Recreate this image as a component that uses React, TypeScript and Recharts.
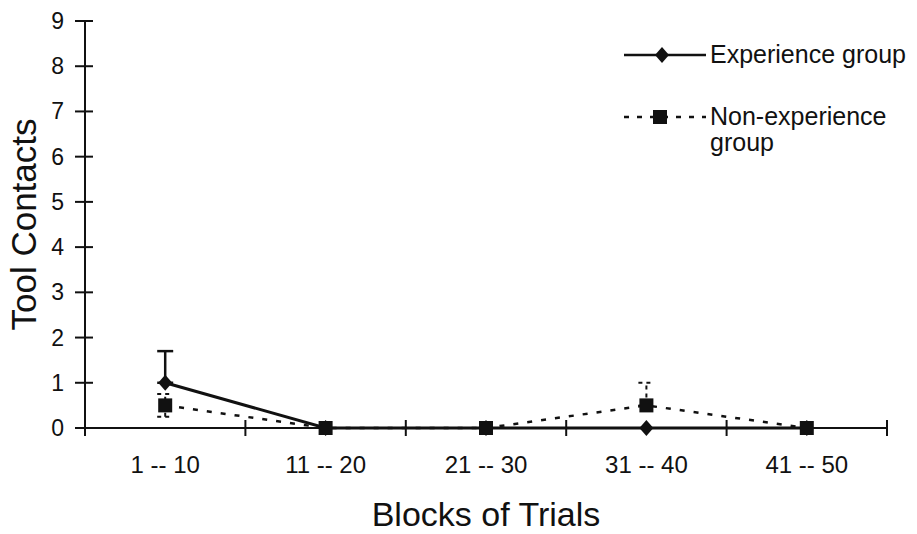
import React from 'react';
import { LineChart, Line, XAxis, YAxis, ErrorBar, Legend } from 'recharts';

const blocks = ['1 -- 10', '11 -- 20', '21 -- 30', '31 -- 40', '41 -- 50'];
const experience = [1, 0, 0, 0, 0];
const experienceErr = [[0, 0.7], null, null, null, null];
const nonExperience = [0.5, 0, 0, 0.5, 0];
const nonExperienceErr = [[0.25, 0.25], null, null, [0, 0.5], null];
const yTicks = [0, 1, 2, 3, 4, 5, 6, 7, 8, 9];
const xTicks = [0, 0.5, 1, 1.5, 2, 2.5, 3, 3.5, 4, 4.5, 5];

const data = blocks.map((block, i) => ({
  pos: i + 0.5,
  block,
  exp: experience[i],
  expErr: experienceErr[i],
  non: nonExperience[i],
  nonErr: nonExperienceErr[i],
}));

const FONT = '"Liberation Sans", Arial, sans-serif';
const INK = '#111';

const Diamond = ({ cx, cy }: any) => (
  <polygon points={`${cx},${cy - 8} ${cx + 7},${cy} ${cx},${cy + 8} ${cx - 7},${cy}`} fill={INK} />
);

const Square = ({ cx, cy }: any) => <rect x={cx - 7} y={cy - 7} width={14} height={14} fill={INK} />;

const XTick = ({ x, y, payload }: any) => {
  const v = payload.value;
  if (Number.isInteger(v)) {
    return <line x1={x} x2={x} y1={y - 8} y2={y + 8} stroke={INK} strokeWidth={2} />;
  }
  return (
    <text x={x} y={y + 45} textAnchor="middle" fontSize={24} fontFamily={FONT} fill={INK}>
      {blocks[Math.floor(v)]}
    </text>
  );
};

const YTick = ({ x, y, payload }: any) => (
  <g>
    <line x1={x - 10} x2={x + 8} y1={y} y2={y} stroke={INK} strokeWidth={2} />
    <text x={x - 21} y={y + 8} textAnchor="end" fontSize={23} fontFamily={FONT} fill={INK}>
      {payload.value}
    </text>
  </g>
);

const LegendBox = () => (
  <svg width={297} height={140} style={{ display: 'block' }}>
    <line x1={4} x2={86} y1={25} y2={25} stroke={INK} strokeWidth={2.5} />
    <Diamond cx={42} cy={25} />
    <text x={90} y={33} fontSize={25} fontFamily={FONT} fill={INK}>Experience group</text>
    <line x1={4} x2={86} y1={87} y2={87} stroke={INK} strokeWidth={2.5} strokeDasharray="5 8" />
    <Square cx={40} cy={87} />
    <text x={90} y={95} fontSize={25} fontFamily={FONT} fill={INK}>Non-experience</text>
    <text x={90} y={121} fontSize={25} fontFamily={FONT} fill={INK}>group</text>
  </svg>
);

export default function App() {
  return (
    <div style={{ position: 'absolute', left: 0, top: 0, background: '#fff' }}>
      <LineChart width={917} height={534} data={data} margin={{ top: 21, right: 30, bottom: 0, left: 0 }}>
        <XAxis
          dataKey="pos"
          type="number"
          domain={[0, 5]}
          ticks={xTicks}
          interval={0}
          tick={<XTick />}
          tickSize={0}
          tickMargin={0}
          tickLine={false}
          axisLine={{ stroke: INK, strokeWidth: 2 }}
          height={106}
          label={{
            value: 'Blocks of Trials',
            position: 'insideBottom',
            offset: 8,
            fontSize: 34,
            fontFamily: FONT,
            fill: INK,
          }}
        />
        <YAxis
          type="number"
          domain={[0, 9]}
          ticks={yTicks}
          interval={0}
          tick={<YTick />}
          tickSize={0}
          tickMargin={0}
          tickLine={false}
          axisLine={{ stroke: INK, strokeWidth: 2 }}
          width={85}
          label={{
            value: 'Tool Contacts',
            angle: -90,
            position: 'insideLeft',
            offset: 24,
            fontSize: 35,
            fontFamily: FONT,
            fill: INK,
            style: { textAnchor: 'middle' },
          }}
        />
        <Legend
          layout="vertical"
          align="center"
          verticalAlign="middle"
          content={<LegendBox />}
          wrapperStyle={{ left: 620, top: 30, width: 297 }}
        />
        <Line
          dataKey="non"
          name="Non-experience group"
          stroke={INK}
          strokeWidth={2.5}
          strokeDasharray="5 9"
          dot={<Square />}
          activeDot={false}
          isAnimationActive={false}
        >
          <ErrorBar dataKey="nonErr" direction="y" width={8} stroke={INK} strokeWidth={2} strokeDasharray="4 4" />
        </Line>
        <Line
          dataKey="exp"
          name="Experience group"
          stroke={INK}
          strokeWidth={3}
          dot={<Diamond />}
          activeDot={false}
          isAnimationActive={false}
        >
          <ErrorBar dataKey="expErr" direction="y" width={8} stroke={INK} strokeWidth={2.5} />
        </Line>
      </LineChart>
    </div>
  );
}
